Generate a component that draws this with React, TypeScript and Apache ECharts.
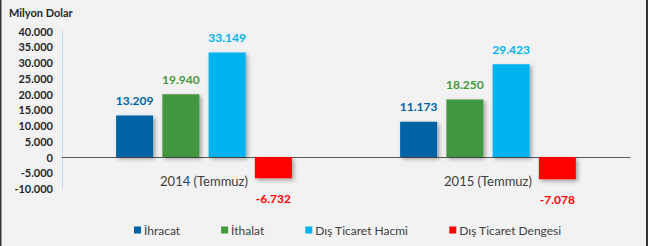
import React, { useEffect, useRef } from "react";
import * as echarts from "echarts";

const categories = ["2014 (Temmuz)", "2015 (Temmuz)"];
const seriesNames = ["İhracat", "İthalat", "Dış Ticaret Hacmi", "Dış Ticaret Dengesi"];
const ihracat = [13209, 11173];
const ithalat = [19940, 18250];
const hacim = [33149, 29423];
const denge = [-6732, -7078];
const colors = ["#0063a6", "#43983f", "#00b3ef", "#ff0000"];
const FONT = "Lato";

const fmt = (v: number) => {
  const s = Math.abs(v).toString().replace(/\B(?=(\d{3})+(?!\d))/g, ".");
  return (v < 0 ? "-" : "") + s;
};

export default function App() {
  const ref = useRef<HTMLDivElement>(null);
  useEffect(() => {
    document.body.style.margin = "0";
    const chart = echarts.init(ref.current!, null, { renderer: "svg" });
    const data = [ihracat, ithalat, hacim, denge];
    chart.setOption({
      animation: false,
      backgroundColor: "#f2f2f2",
      textStyle: { fontFamily: FONT },
      grid: { left: 62, top: 31, width: 568, height: 157.5, containLabel: false },
      legend: {
        left: 129,
        top: 219,
        itemWidth: 7,
        itemHeight: 7,
        itemGap: 41,
        icon: "rect",
        textStyle: { fontFamily: FONT, fontSize: 12, color: "#404040", padding: [0, 0, 0, -2] },
        data: seriesNames,
      },
      graphic: [
        {
          type: "text",
          left: 9,
          top: 7,
          style: { text: "Milyon Dolar", font: `bold 11px ${FONT}`, fill: "#262626" },
        },
        { type: "rect", shape: { x: 0, y: 0, width: 1.5, height: 246 }, style: { fill: "#333" } },
        { type: "rect", shape: { x: 646, y: 0, width: 2, height: 246 }, style: { fill: "#333" } },
      ],
      xAxis: {
        type: "category",
        data: categories,
        axisTick: { show: false },
        axisLine: { onZero: true, lineStyle: { color: "#595959", width: 1 } },
        axisLabel: { margin: -14, fontSize: 13, color: "#404040", fontFamily: FONT },
      },
      yAxis: {
        type: "value",
        min: -10000,
        max: 40000,
        interval: 5000,
        splitLine: { show: false },
        axisTick: { show: false },
        axisLine: { show: true, lineStyle: { color: "#c6d9f0" } },
        axisLabel: {
          margin: 9,
          fontSize: 11,
          fontWeight: "bold",
          color: "#262626",
          fontFamily: FONT,
          formatter: (v: number) => fmt(v),
        },
      },
      series: seriesNames.map((name, i) => ({
        name,
        type: "bar",
        data: data[i],
        barWidth: 37,
        barGap: "25%",
        itemStyle: {
          color: colors[i],
          shadowBlur: 4,
          shadowOffsetX: 2,
          shadowOffsetY: 2,
          shadowColor: "rgba(0,0,0,0.35)",
        },
        label: {
          show: true,
          position: i === 3 ? "bottom" : "top",
          distance: i === 3 ? 14 : 9,
          color: colors[i],
          fontSize: 12,
          fontWeight: "bold",
          fontFamily: FONT,
          formatter: (p: any) => fmt(p.value),
        },
      })),
    });
    return () => chart.dispose();
  }, []);
  return (
    <div
      ref={ref}
      style={{ position: "absolute", left: 0, top: 0, width: 648, height: 246 }}
    />
  );
}
